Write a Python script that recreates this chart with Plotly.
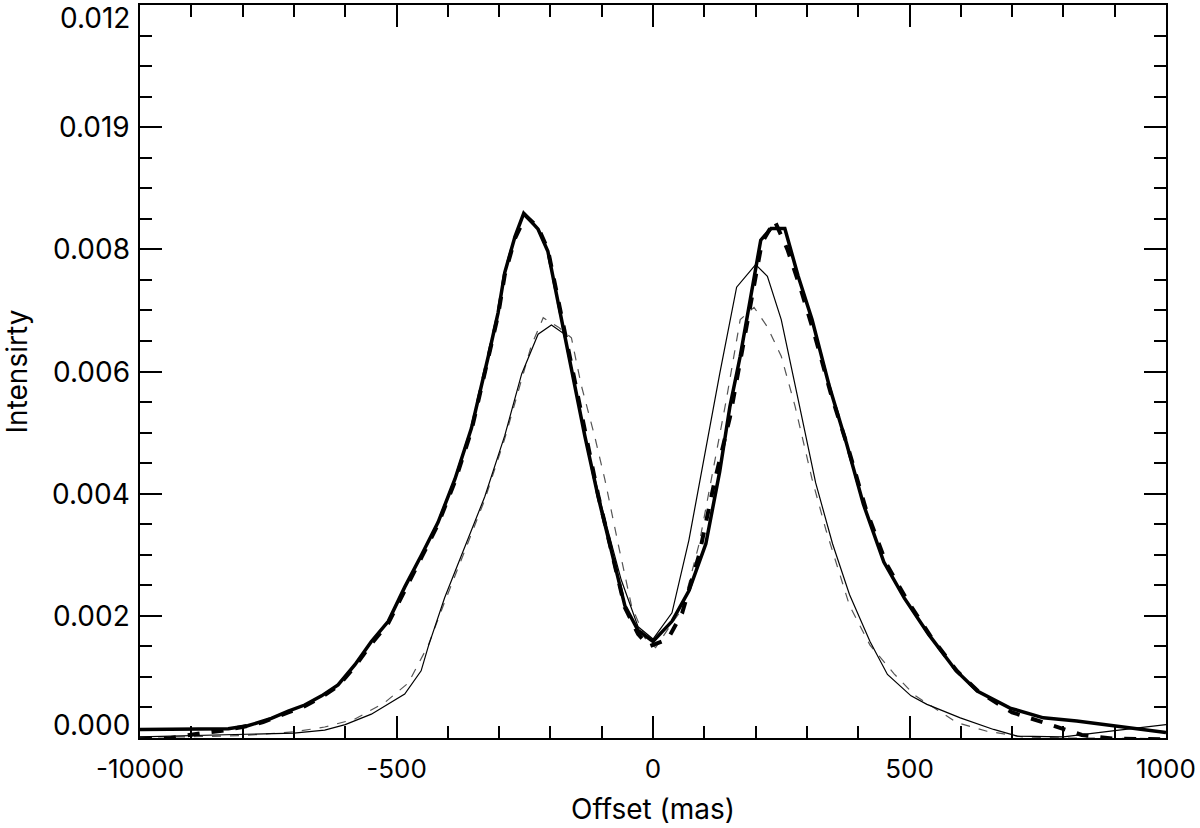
import plotly.graph_objects as go

# Offset (mas) / intensity readings for the four profiles
obs_x = [-1000, -900, -828, -790, -744, -711, -679, -646, -614, -581, -549, -516,
         -484, -451, -419, -386, -354, -321, -302, -289, -269, -252, -224, -205,
         -185, -159, -133, -107, -81, -55, -29, 0, 37, 70, 103, 130, 150, 170,
         190, 210, 230, 257, 283, 310, 343, 377, 410, 450, 490, 537, 590, 632,
         696, 761, 826, 891, 956, 1000]
obs_y = [0.00014, 0.00014, 0.00015, 0.00020, 0.00032, 0.00044, 0.00054, 0.00069,
         0.00087, 0.00120, 0.00158, 0.00191, 0.00247, 0.00300, 0.00353, 0.00424,
         0.00507, 0.00625, 0.00696, 0.00762, 0.00821, 0.00859, 0.00833, 0.00797,
         0.00714, 0.00602, 0.00495, 0.00395, 0.00306, 0.00217, 0.00176, 0.00158,
         0.00191, 0.00241, 0.00318, 0.00436, 0.00543, 0.00625, 0.00720, 0.00815,
         0.00834, 0.00834, 0.00756, 0.00685, 0.00578, 0.00483, 0.00383, 0.00288,
         0.00229, 0.00170, 0.00111, 0.00077, 0.00049, 0.00033, 0.00028, 0.00021,
         0.00014, 0.00009]

obs2_x = [-1000, -940, -880, -840, -800, -760, -711, -679, -646, -614, -581, -549,
          -516, -484, -451, -419, -386, -354, -321, -302, -289, -269, -248, -224,
          -205, -185, -159, -133, -107, -81, -55, -29, -7, 29, 57, 90, 120, 150,
          172, 192, 212, 237, 262, 288, 315, 348, 382, 415, 455, 495, 540, 592,
          636, 700, 780, 836, 895, 1000]
obs2_y = [-0.00002, 0.00000, 0.00008, 0.00012, 0.00018, 0.00026, 0.00042, 0.00052,
          0.00067, 0.00085, 0.00117, 0.00154, 0.00188, 0.00243, 0.00296, 0.00350,
          0.00420, 0.00503, 0.00620, 0.00692, 0.00758, 0.00818, 0.00855, 0.00836,
          0.00800, 0.00718, 0.00606, 0.00498, 0.00398, 0.00306, 0.00214, 0.00170,
          0.00150, 0.00162, 0.00205, 0.00300, 0.00420, 0.00525, 0.00625, 0.00720,
          0.00810, 0.00847, 0.00800, 0.00735, 0.00660, 0.00560, 0.00470, 0.00375,
          0.00285, 0.00226, 0.00168, 0.00110, 0.00075, 0.00042, 0.00020, 0.00005,
          -0.00001, -0.00002]

mod_x = [-1000, -900, -800, -700, -640, -600, -549, -510, -484, -452, -438, -406,
         -367, -328, -289, -256, -224, -198, -172, -153, -127, -94, -62, -29, 0,
         37, 70, 97, 130, 163, 200, 223, 250, 283, 317, 350, 383, 423, 457, 503,
         534, 599, 664, 710, 800, 900, 1000]
mod_y = [0.00002, 0.00004, 0.00006, 0.00008, 0.00013, 0.00022, 0.00039, 0.00058,
         0.00072, 0.00110, 0.00150, 0.00230, 0.00312, 0.00395, 0.00495, 0.00596,
         0.00661, 0.00676, 0.00661, 0.00578, 0.00472, 0.00359, 0.00259, 0.00182,
         0.00162, 0.00205, 0.00324, 0.00448, 0.00596, 0.00738, 0.00775, 0.00756,
         0.00685, 0.00554, 0.00418, 0.00318, 0.00235, 0.00158, 0.00104, 0.00069,
         0.00055, 0.00033, 0.00014, 0.00003, 0.00002, 0.00012, 0.00022]

mod2_x = [-1000, -900, -800, -700, -640, -581, -523, -477, -438, -406, -367, -328,
          -289, -256, -237, -214, -185, -159, -140, -114, -94, -68, -42, -16, 5,
          37, 57, 90, 143, 170, 197, 223, 250, 277, 310, 337, 357, 383, 423, 470,
          510, 553, 593, 651, 720, 800, 1000]
mod2_y = [0.00002, 0.00002, 0.00004, 0.00010, 0.00018, 0.00031, 0.00058, 0.00090,
          0.00152, 0.00223, 0.00306, 0.00390, 0.00490, 0.00590, 0.00643, 0.00688,
          0.00673, 0.00655, 0.00578, 0.00495, 0.00424, 0.00318, 0.00217, 0.00164,
          0.00148, 0.00188, 0.00211, 0.00318, 0.00554, 0.00685, 0.00705, 0.00673,
          0.00625, 0.00543, 0.00424, 0.00341, 0.00288, 0.00217, 0.00152, 0.00105,
          0.00070, 0.00046, 0.00025, 0.00011, 0.00002, 0.00000, -0.00001]

x_ticks = [-1000, -500, 0, 500, 1000]
x_labels = ["-10000", "-500", "0", "500", "1000"]
y_ticks = [0.0, 0.002, 0.004, 0.006, 0.008, 0.010, 0.012]
y_labels = ["0.000", "0.002", "0.004", "0.006", "0.008", "0.019", "0.012"]

fig = go.Figure()
fig.add_trace(go.Scatter(x=mod2_x, y=mod2_y, mode="lines",
                         line=dict(color="#555555", width=1.2, dash="dash")))
fig.add_trace(go.Scatter(x=mod_x, y=mod_y, mode="lines",
                         line=dict(color="black", width=1.2)))
fig.add_trace(go.Scatter(x=obs2_x, y=obs2_y, mode="lines",
                         line=dict(color="black", width=4, dash="dash")))
fig.add_trace(go.Scatter(x=obs_x, y=obs_y, mode="lines",
                         line=dict(color="black", width=3.5)))

# y tick labels as annotations so the end labels can sit inside the frame
for val, lab in zip(y_ticks, y_labels):
    shift = 0
    if val == y_ticks[0]:
        shift = 13
    elif val == y_ticks[-1]:
        shift = -13
    fig.add_annotation(x=0, xref="paper", y=val, yref="y", text=lab,
                       showarrow=False, xanchor="right", yanchor="middle",
                       xshift=-8, yshift=shift,
                       font=dict(size=28, color="black"))

axis_style = dict(
    showgrid=False, zeroline=False, showline=True, linecolor="black",
    linewidth=1.5, mirror="ticks", ticks="inside", ticklen=22, tickwidth=1.5,
    tickcolor="black",
)

fig.update_layout(
    width=1200, height=828,
    template="plotly_white",
    plot_bgcolor="white", paper_bgcolor="white",
    showlegend=False,
    font=dict(family="Inter, Liberation Sans, Arial, sans-serif", color="black"),
    margin=dict(l=140, r=34, t=3, b=90),
    xaxis=dict(
        range=[-1000, 1000], tickvals=x_ticks, ticktext=x_labels,
        tickfont=dict(size=26, color="black"), ticklabelstandoff=7,
        minor=dict(dtick=100, ticks="inside", ticklen=12, tickwidth=1.5,
                   tickcolor="black"),
        title=dict(text="Offset (mas)", font=dict(size=28), standoff=16),
        **axis_style
    ),
    yaxis=dict(
        range=[0, 0.012], tickvals=y_ticks, showticklabels=False,
        minor=dict(dtick=0.0005, ticks="inside", ticklen=12, tickwidth=1.5,
                   tickcolor="black"),
        title=dict(text="Intensirty", font=dict(size=28), standoff=104),
        **axis_style
    ),
)

# drop the default page margin so the plot sits at the window's top-left
fig.write_html("out.html", config={"displayModeBar": False},
               post_script="document.body.style.margin='0';")
